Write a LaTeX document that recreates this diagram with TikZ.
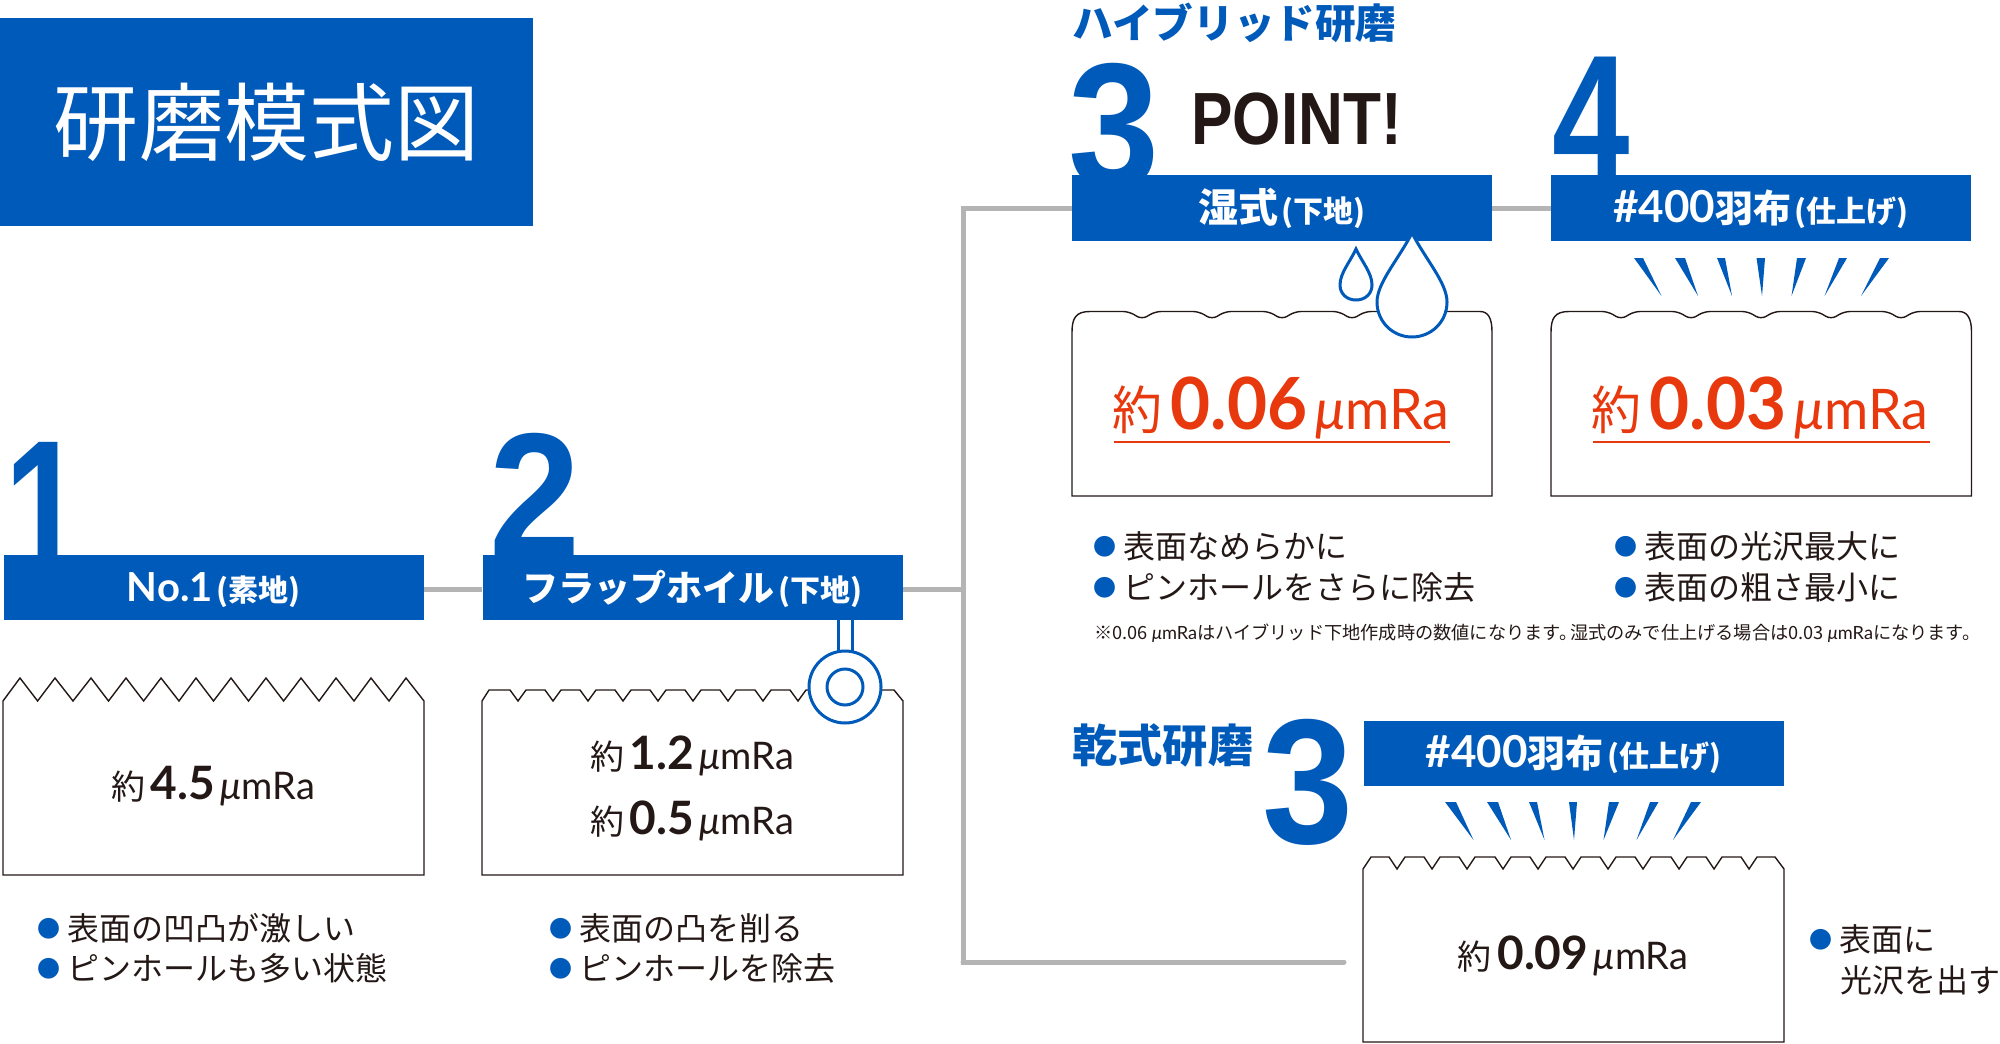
\documentclass[tikz,border=0pt]{standalone}
\usepackage{fontspec}
\setmainfont{Noto Sans CJK JP}
\newfontfamily\latn{Lato}
\newfontfamily\bignumfont{Liberation Sans}
\definecolor{polblue}{HTML}{005ABA}
\definecolor{polred}{HTML}{E8380D}
\definecolor{polink}{HTML}{231815}
\definecolor{polgray}{HTML}{B4B4B4}
\newcommand{\fs}[1]{\fontsize{#1}{#1}\selectfont}
\newcommand{\um}{{\latn\itshape μ}{\latn mRa}}
\newcommand{\valsmall}[1]{\fs{17}約\,{\latn\bfseries\fs{23}#1}\,{\fs{19}\um}}
\newcommand{\valbig}[1]{\fs{26}約\,{\latn\bfseries\fs{36}#1}\,{\fs{28}\um}}
\newcommand{\bul}{\raisebox{1.7pt}{\fs{11.5}\color{polblue}●}\hspace{3.5pt}}
\begin{document}
\begin{tikzpicture}[x=0.5pt,y=-0.5pt]
        \tikzstyle{every node}=[inner sep=0pt,text=polink];
        \tikzstyle{bar}=[fill=polblue,text=white,minimum width=210pt,minimum height=32.5pt,text height=14.6pt,text depth=0pt,font=\bfseries];
        \tikzstyle{bignum}=[anchor=base,text=polblue,xscale=0.92,font={\bignumfont\bfseries\fs{89}}];
        \tikzstyle{note}=[anchor=west,font={\fs{16}}];
        \tikzstyle{box}=[draw=polink,line width=0.7pt,fill=white];
        \tikzstyle{link}=[draw=polgray,line width=2.5pt];
        \tikzstyle{tool}=[draw=polblue,line width=1.5pt,fill=white];
        \tikzstyle{rule}=[draw=polred,line width=1pt];
        \useasboundingbox (0,0) rectangle (2000,1043);
        % title
        \node[fill=polblue,text=white,minimum width=266.5pt,minimum height=104pt,font={\fs{42.5}}] (t) at (266.5,122) {研磨模式図};
        % numbers behind the bars
        \node[bignum,xscale=0.88,yscale=1.12] (d1) at (44.5,579) {1};
        \node[bignum] (d2) at (535,557) {2};
        \node[bignum] (d3) at (1114,188) {3};
        \node[bignum,xscale=0.85] (d4) at (1591,180) {4};
        \node[bignum] (d5) at (1308,843) {3};
        % bars
        \node[bar] (1) at (213.5,587) {{\latn\fs{20}No.1}\,{\fs{15}(素地)}};
        \node[bar] (2) at (692.5,587) {{\fs{18}フラップホイル}\,{\fs{15}(下地)}};
        \node[bar] (3) at (1282,208) {{\fs{20}湿式}\,{\fs{15}(下地)}};
        \node[bar] (4) at (1761,208) {{\latn\fs{22}\#400}{\fs{19}羽布}\,{\fs{15}(仕上げ)}};
        \node[bar] (5) at (1573.5,753) {{\latn\fs{22}\#400}{\fs{19}羽布}\,{\fs{15}(仕上げ)}};
        \node[anchor=west,text=polblue,font={\bfseries\fs{20.3}}] (h1) at (1072,23) {ハイブリッド研磨};
        \node[anchor=west,text=polblue,font={\bfseries\fs{22.6}}] (h2) at (1072,745) {乾式研磨};
        \node[anchor=west,xscale=0.84,font={\bignumfont\bfseries\fs{37}}] (p) at (1191,119) {POINT!};
        % lines between the bars
        \coordinate (a) at (963,589);
        \coordinate (b) at (963,209);
        \coordinate (c) at (963,962);
        \coordinate (d) at (1344,962);
        \draw[link] ([yshift=-1pt]1.east)--([yshift=-1pt]2.west);
        \draw[link] ([yshift=-1pt]2.east)--(a);
        \draw[link,line cap=rect] (b)--(c);
        \draw[link] (b)--([yshift=-0.5pt]3.west);
        \draw[link,line cap=round] (c)--(d);
        \draw[link] ([yshift=-0.5pt]3.east)--([yshift=-0.5pt]4.west);
        % surfaces
        \draw[box] (3,875)--(3,701)--(20,678)--(37.6,701)--(55,678)--(73,701)--(91,678)--(108.5,701)--(126,678)--(143.6,701)--(161,678)--(179,701)--(196,678)--(213.5,701)--(231,678)--(248.5,701)--(266,678)--(283.6,701)--(301,678)--(319,701)--(336,678)--(354,701)--(371,678)--(389,701)--(406,678)--(424,701)--(424,875)--cycle;
        \draw[box] (482,875)--(482,701)--(489,690)--(510,690)--(518,701)--(526,690)--(545,690)--(553,701)--(561,690)--(580,690)--(588,701)--(596,690)--(615,690)--(623,701)--(631,690)--(650,690)--(658,701)--(666,690)--(685,690)--(693,701)--(701,690)--(720,690)--(728,701)--(736,690)--(755,690)--(763,701)--(771,690)--(790,690)--(798,701)--(806,690)--(894,690)--(903,701)--(903,875)--cycle;
        \draw[box] (1072,496)--(1072,332) .. controls (1072,318) and (1076,311.5) .. (1090,311.5) [rounded corners=3pt]--(1129,311.5)--(1142,319.5)--(1155,311.5)--(1199,311.5)--(1212,319.5)--(1225,311.5)--(1269,311.5)--(1282,319.5)--(1295,311.5)--(1339,311.5)--(1352,319.5)--(1365,311.5)--(1409,311.5)--(1422,319.5)--(1435,311.5)--(1474,311.5) [sharp corners] .. controls (1488,311.5) and (1492,318) .. (1492,332)--(1492,496)--cycle;
        \draw[box] (1551,496)--(1551,332) .. controls (1551,318) and (1555,311.5) .. (1569,311.5) [rounded corners=3pt]--(1608,311.5)--(1621,319.5)--(1634,311.5)--(1678,311.5)--(1691,319.5)--(1704,311.5)--(1748,311.5)--(1761,319.5)--(1774,311.5)--(1818,311.5)--(1831,319.5)--(1844,311.5)--(1888,311.5)--(1901,319.5)--(1914,311.5)--(1953,311.5) [sharp corners] .. controls (1967,311.5) and (1971.5,318) .. (1971.5,332)--(1971.5,496)--cycle;
        \draw[box] (1363,1042)--(1363,869)--(1371,857)--(1389,857)--(1397,869)--(1405,857)--(1424,857)--(1432,869)--(1440,857)--(1459,857)--(1467,869)--(1475,857)--(1495,857)--(1503,869)--(1511,857)--(1530,857)--(1538,869)--(1546,857)--(1565,857)--(1573,869)--(1581,857)--(1600,857)--(1608,869)--(1616,857)--(1635,857)--(1643,869)--(1651,857)--(1671,857)--(1679,869)--(1687,857)--(1706,857)--(1714,869)--(1722,857)--(1741,857)--(1749,869)--(1757,857)--(1775,857)--(1784,869)--(1784,1042)--cycle;
        % flap wheel
        \draw[tool] (838,620)--(838,652);
        \draw[tool] (852,620)--(852,652);
        \draw[tool] (845,687) circle [radius=18pt];
        \draw[tool] (845,687) circle [radius=9pt];
        % drops
        \draw[tool] (1356,249) .. controls (1350,262) and (1340,273) .. (1340,285) .. controls (1340,294) and (1347,300) .. (1356,300) .. controls (1365,300) and (1372,294) .. (1372,285) .. controls (1372,273) and (1362,262) .. (1356,249)--cycle;
        \draw[tool] (1412,233) .. controls (1398,260) and (1377,283) .. (1377,302) .. controls (1377,322) and (1393,337) .. (1412,337) .. controls (1431,337) and (1447,322) .. (1447,302) .. controls (1447,283) and (1426,260) .. (1412,233)--cycle;
        % rays under bar 4
        \fill[polblue] (1634,258)--(1643,258)--(1661.5,296)--cycle;
        \fill[polblue] (1675,258)--(1685,258)--(1698,296)--cycle;
        \fill[polblue] (1717,258)--(1725,258)--(1732,296)--cycle;
        \fill[polblue] (1756.5,258)--(1765,258)--(1762,296)--cycle;
        \fill[polblue] (1797,258)--(1806,258)--(1791.5,296)--cycle;
        \fill[polblue] (1839,258)--(1847,258)--(1824.5,296)--cycle;
        \fill[polblue] (1880,258)--(1889,258)--(1861,296)--cycle;
        % rays under bar 5
        \fill[polblue] (1445,802)--(1456,802)--(1473.5,840)--cycle;
        \fill[polblue] (1487,802)--(1498,802)--(1511,840)--cycle;
        \fill[polblue] (1529,802)--(1537,802)--(1544.5,840)--cycle;
        \fill[polblue] (1569,802)--(1577,802)--(1574,840)--cycle;
        \fill[polblue] (1609,802)--(1619,802)--(1603.5,840)--cycle;
        \fill[polblue] (1650,802)--(1658.5,802)--(1636.5,840)--cycle;
        \fill[polblue] (1691,802)--(1701,802)--(1673,840)--cycle;
        % values
        \node (v1) at (213,786) {\valsmall{4.5}};
        \node (v2) at (692,756) {\valsmall{1.2}};
        \node (v3) at (692,821) {\valsmall{0.5}};
        \node[text=polred,xscale=0.96] (v4) at (1281,408) {\valbig{0.06}};
        \node[text=polred,xscale=0.96] (v5) at (1760,408) {\valbig{0.03}};
        \node (v6) at (1573,956) {\valsmall{0.09}};
        \draw[rule] (1113.5,442)--(1450,442);
        \draw[rule] (1593,442)--(1930,442);
        % notes
        \node[note] (n1) at (37,928.5) {\bul 表面の凹凸が激しい};
        \node[note] (n2) at (37,968.5) {\bul ピンホールも多い状態};
        \node[note] (n3) at (549,928.5) {\bul 表面の凸を削る};
        \node[note] (n4) at (549,968.5) {\bul ピンホールを除去};
        \node[note] (n5) at (1093,546.5) {\bul 表面なめらかに};
        \node[note] (n6) at (1093,587.5) {\bul ピンホールをさらに除去};
        \node[note] (n7) at (1614,546.5) {\bul 表面の光沢最大に};
        \node[note] (n8) at (1614,587.5) {\bul 表面の粗さ最小に};
        \node[note] (n9) at (1809,939.5) {\bul 表面に};
        \node[note] (n10) at (1840,980.5) {光沢を出す};
        \node[anchor=west,font={\fs{9.1}}] (n11) at (1094,633) {※0.06 \um はハイブリッド下地作成時の数値になります。\kern-0.4em 湿式のみで仕上げる場合は0.03 \um になります。};
\end{tikzpicture}
\end{document}
